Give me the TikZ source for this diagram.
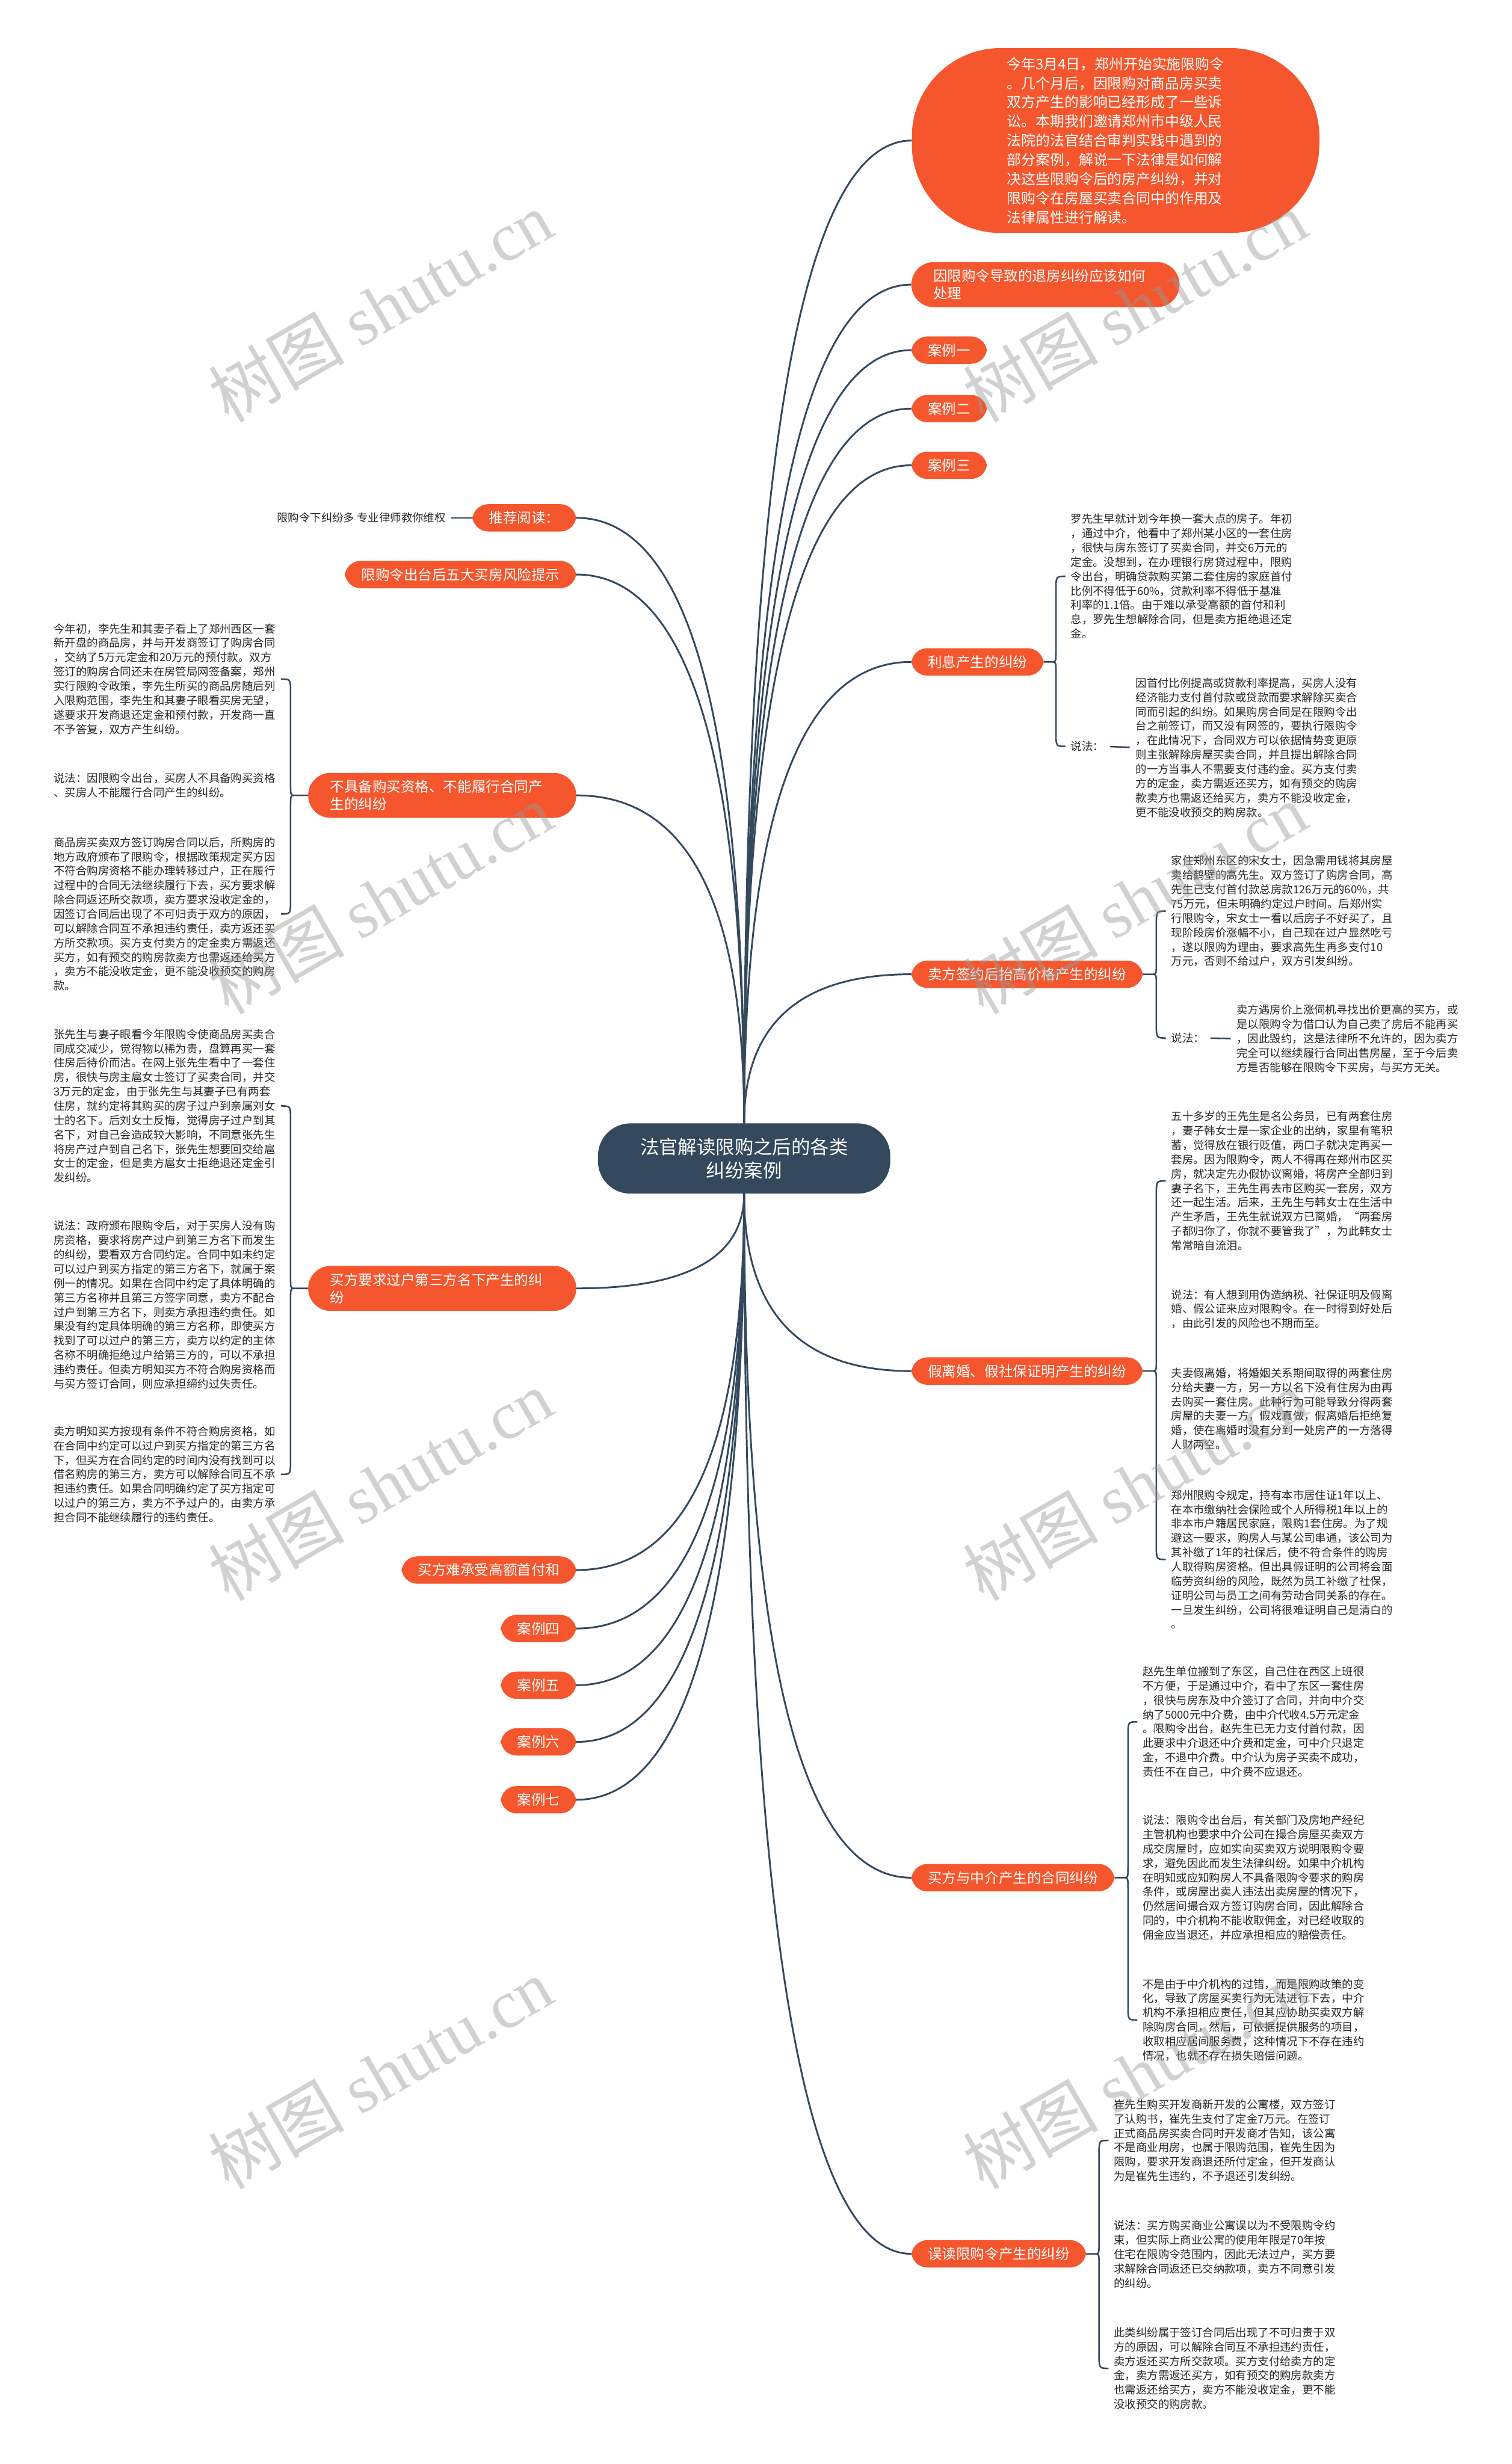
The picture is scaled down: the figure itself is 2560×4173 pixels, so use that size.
\documentclass[tikz,border=0pt]{standalone}
\usepackage{fontspec}
\setmainfont{Noto Sans CJK SC}
\newfontfamily\wmfont{Liberation Serif}
\usetikzlibrary{calc}

\definecolor{slate}{RGB}{52,73,94}
\definecolor{tomato}{RGB}{245,86,45}
\definecolor{ink}{RGB}{40,40,40}

\tikzset{
  hub/.style={fill=slate,text=white,rounded corners=55pt,minimum width=495pt,minimum height=119pt,
    align=center,font=\fontsize{32}{40}\selectfont},
  intro/.style={fill=tomato,text=white,rounded corners=150pt,minimum width=690pt,minimum height=313pt,
    align=left,font=\fontsize{24.3}{32.5}\selectfont},
  branch/.style={fill=tomato,text=white,rounded corners=27pt,inner xsep=28pt,inner ysep=12pt,
    align=left,font=\fontsize{24}{30}\selectfont},
  twoline/.style={branch,rounded corners=38pt,text width=380pt,inner xsep=37pt},
  leaf/.style={text=ink,inner sep=0pt,anchor=west,align=left,font=\fontsize{18.75}{24.3}\selectfont},
  link/.style={draw=slate,line width=3pt},
  wmark/.style={text=black!40,text opacity=0.45,rotate=30,font=\fontsize{115}{115}\selectfont}
}

% curve from the centre node to a branch
\newcommand{\branchlink}[2]{%
  \draw[link] let \p1=(#1), \p2=(#2) in
    (\p1) .. controls (\x1,{\y1+0.667*(\y2-\y1)}) and ({\x2+0.667*(\x1-\x2)},\y2) .. (\p2);}

% brace: parent anchor, first child, last child, end x, spine x, tip x
\newcommand{\cbrace}[6]{%
  \draw[link,line width=2.6pt] let \p1=(#1), \p2=(#2), \p3=(#3) in
    (#4pt,\y2) .. controls (#5pt,\y2) .. (#5pt,{\y2-24pt})
    -- (#5pt,{\y1+22pt}) .. controls (#5pt,\y1) .. (#6pt,\y1)
    .. controls (#5pt,\y1) .. (#5pt,{\y1-22pt})
    -- (#5pt,{\y3+24pt}) .. controls (#5pt,\y3) .. (#4pt,\y3)
    (#6pt,\y1) -- (#1);}

\begin{document}
\begin{tikzpicture}[x=1pt,y=-1pt]
\fill[white] (0,0) rectangle (2560,4173);
\useasboundingbox (0,0) rectangle (2560,4173);

% centre
\node[hub] (ctr) at (1260,1962) {法官解读限购之后的各类\\纠纷案例};

% right side
\node[intro] (intro) at (1889,238) {今年3月4日，郑州开始实施限购令\\。几个月后，因限购对商品房买卖\\双方产生的影响已经形成了一些诉\\讼。本期我们邀请郑州市中级人民\\法院的法官结合审判实践中遇到的\\部分案例，解说一下法律是如何解\\决这些限购令后的房产纠纷，并对\\限购令在房屋买卖合同中的作用及\\法律属性进行解读。};
\node[twoline,anchor=west] (q1) at (1543,482) {因限购令导致的退房纠纷应该如何\\处理};
\node[branch,anchor=west] (case1) at (1543,593) {案例一};
\node[branch,anchor=west] (case2) at (1543,692) {案例二};
\node[branch,anchor=west] (case3) at (1543,788) {案例三};
\node[branch,anchor=west] (lixi) at (1543,1121) {利息产生的纠纷};
\node[branch,anchor=west] (seller) at (1543,1650) {卖方签约后抬高价格产生的纠纷};
\node[branch,anchor=west] (fake) at (1543,2322) {假离婚、假社保证明产生的纠纷};
\node[branch,anchor=west] (agent) at (1543,3180) {买方与中介产生的合同纠纷};
\node[branch,anchor=west] (misread) at (1543,3817) {误读限购令产生的纠纷};

% left side
\node[branch,anchor=east] (rec) at (976,877) {推荐阅读：};
\node[branch,anchor=east] (risk) at (976,973) {限购令出台后五大买房风险提示};
\node[twoline,anchor=east] (unq) at (976,1347) {不具备购买资格、不能履行合同产\\生的纠纷};
\node[twoline,anchor=east] (transfer) at (976,2182) {买方要求过户第三方名下产生的纠\\纷};
\node[branch,anchor=east] (hard) at (976,2659) {买方难承受高额首付和};
\node[branch,anchor=east] (case4) at (976,2758) {案例四};
\node[branch,anchor=east] (case5) at (976,2854) {案例五};
\node[branch,anchor=east] (case6) at (976,2950) {案例六};
\node[branch,anchor=east] (case7) at (976,3048) {案例七};

\foreach \t in {intro.west,q1.west,case1.west,case2.west,case3.west,lixi.west,seller.west,rec.east,risk.east,unq.east}
  \branchlink{ctr.north}{\t};
\foreach \t in {fake.west,agent.west,misread.west,transfer.east,hard.east,case4.east,case5.east,case6.east,case7.east}
  \branchlink{ctr.south}{\t};

% leaves: 推荐阅读
\node[leaf] (recleaf) at (469,877) {限购令下纠纷多 专业律师教你维权};
\draw[link,line width=2.6pt,shorten <=9pt] (recleaf.east) -- (rec.west);

% leaves: 利息
\node[leaf] (lx1) at (1813,976) {罗先生早就计划今年换一套大点的房子。年初\\，通过中介，他看中了郑州某小区的一套住房\\，很快与房东签订了买卖合同，并交6万元的\\定金。没想到，在办理银行房贷过程中，限购\\令出台，明确贷款购买第二套住房的家庭首付\\比例不得低于60\%，贷款利率不得低于基准\\利率的1.1倍。由于难以承受高额的首付和利\\息，罗先生想解除合同，但是卖方拒绝退还定\\金。};
\node[leaf] (lxsay) at (1813,1264) {说法：};
\node[leaf] (lx2) at (1923,1266) {因首付比例提高或贷款利率提高，买房人没有\\经济能力支付首付款或贷款而要求解除买卖合\\同而引起的纠纷。如果购房合同是在限购令出\\台之前签订，而又没有网签的，要执行限购令\\，在此情况下，合同双方可以依据情势变更原\\则主张解除房屋买卖合同，并且提出解除合同\\的一方当事人不需要支付违约金。买方支付卖\\方的定金，卖方需返还买方，如有预交的购房\\款卖方也需返还给买方，卖方不能没收定金，\\更不能没收预交的购房款。};
\draw[link,line width=2.6pt,shorten <=10pt,shorten >=10pt] (lxsay.east) -- (lx2.west);
\cbrace{lixi.east}{lx1}{lxsay}{1804}{1788}{1782}

% leaves: 卖方签约
\node[leaf] (sl1) at (1983,1543) {家住郑州东区的宋女士，因急需用钱将其房屋\\卖给鹤壁的高先生。双方签订了购房合同，高\\先生已支付首付款总房款126万元的60\%，共\\75万元，但未明确约定过户时间。后郑州实\\行限购令，宋女士一看以后房子不好买了，且\\现阶段房价涨幅不小，自己现在过户显然吃亏\\，遂以限购为理由，要求高先生再多支付10\\万元，否则不给过户，双方引发纠纷。};
\node[leaf] (slsay) at (1983,1758) {说法：};
\node[leaf] (sl2) at (2094,1759) {卖方遇房价上涨伺机寻找出价更高的买方，或\\是以限购令为借口认为自己卖了房后不能再买\\，因此毁约，这是法律所不允许的，因为卖方\\完全可以继续履行合同出售房屋，至于今后卖\\方是否能够在限购令下买房，与买方无关。};
\draw[link,line width=2.6pt,shorten <=10pt,shorten >=10pt] (slsay.east) -- (sl2.west);
\cbrace{seller.east}{sl1}{slsay}{1974}{1958}{1952}

% leaves: 假离婚
\node[leaf] (fk1) at (1983,2000) {五十多岁的王先生是名公务员，已有两套住房\\，妻子韩女士是一家企业的出纳，家里有笔积\\蓄，觉得放在银行贬值，两口子就决定再买一\\套房。因为限购令，两人不得再在郑州市区买\\房，就决定先办假协议离婚，将房产全部归到\\妻子名下，王先生再去市区购买一套房，双方\\还一起生活。后来，王先生与韩女士在生活中\\产生矛盾，王先生就说双方已离婚，“两套房\\子都归你了，你就不要管我了”，为此韩女士\\常常暗自流泪。};
\node[leaf] (fk2) at (1983,2217) {说法：有人想到用伪造纳税、社保证明及假离\\婚、假公证来应对限购令。在一时得到好处后\\，由此引发的风险也不期而至。};
\node[leaf] (fk3) at (1983,2386) {夫妻假离婚，将婚姻关系期间取得的两套住房\\分给夫妻一方，另一方以名下没有住房为由再\\去购买一套住房。此种行为可能导致分得两套\\房屋的夫妻一方，假戏真做，假离婚后拒绝复\\婚，使在离婚时没有分到一处房产的一方落得\\人财两空。};
\node[leaf] (fk4) at (1983,2641) {郑州限购令规定，持有本市居住证1年以上、\\在本市缴纳社会保险或个人所得税1年以上的\\非本市户籍居民家庭，限购1套住房。为了规\\避这一要求，购房人与某公司串通，该公司为\\其补缴了1年的社保后，使不符合条件的购房\\人取得购房资格。但出具假证明的公司将会面\\临劳资纠纷的风险，既然为员工补缴了社保，\\证明公司与员工之间有劳动合同关系的存在。\\一旦发生纠纷，公司将很难证明自己是清白的\\。};
\cbrace{fake.east}{fk1}{fk4}{1974}{1958}{1952}

% leaves: 中介
\node[leaf] (ag1) at (1935,2916) {赵先生单位搬到了东区，自己住在西区上班很\\不方便，于是通过中介，看中了东区一套住房\\，很快与房东及中介签订了合同，并向中介交\\纳了5000元中介费，由中介代收4.5万元定金\\。限购令出台，赵先生已无力支付首付款，因\\此要求中介退还中介费和定金，可中介只退定\\金，不退中介费。中介认为房子买卖不成功，\\责任不在自己，中介费不应退还。};
\node[leaf] (ag2) at (1935,3180) {说法：限购令出台后，有关部门及房地产经纪\\主管机构也要求中介公司在撮合房屋买卖双方\\成交房屋时，应如实向买卖双方说明限购令要\\求，避免因此而发生法律纠纷。如果中介机构\\在明知或应知购房人不具备限购令要求的购房\\条件，或房屋出卖人违法出卖房屋的情况下，\\仍然居间撮合双方签订购房合同，因此解除合\\同的，中介机构不能收取佣金，对已经收取的\\佣金应当退还，并应承担相应的赔偿责任。};
\node[leaf] (ag3) at (1935,3421) {不是由于中介机构的过错，而是限购政策的变\\化，导致了房屋买卖行为无法进行下去，中介\\机构不承担相应责任，但其应协助买卖双方解\\除购房合同，然后，可依据提供服务的项目，\\收取相应居间服务费，这种情况下不存在违约\\情况，也就不存在损失赔偿问题。};
\cbrace{agent.east}{ag1}{ag3}{1926}{1910}{1904}

% leaves: 误读
\node[leaf] (mr1) at (1886,3625) {崔先生购买开发商新开发的公寓楼，双方签订\\了认购书，崔先生支付了定金7万元。在签订\\正式商品房买卖合同时开发商才告知，该公寓\\不是商业用房，也属于限购范围，崔先生因为\\限购，要求开发商退还所付定金，但开发商认\\为是崔先生违约，不予退还引发纠纷。};
\node[leaf] (mr2) at (1886,3818) {说法：买方购买商业公寓误以为不受限购令约\\束，但实际上商业公寓的使用年限是70年按\\住宅在限购令范围内，因此无法过户，买方要\\求解除合同返还已交纳款项，卖方不同意引发\\的纠纷。};
\node[leaf] (mr3) at (1886,4011) {此类纠纷属于签订合同后出现了不可归责于双\\方的原因，可以解除合同互不承担违约责任，\\卖方返还买方所交款项。买方支付给卖方的定\\金，卖方需返还买方，如有预交的购房款卖方\\也需返还给买方，卖方不能没收定金，更不能\\没收预交的购房款。};
\cbrace{misread.east}{mr1}{mr3}{1877}{1861}{1855}

% leaves: 不具备购买资格
\node[leaf] (un1) at (91,1150) {今年初，李先生和其妻子看上了郑州西区一套\\新开盘的商品房，并与开发商签订了购房合同\\，交纳了5万元定金和20万元的预付款。双方\\签订的购房合同还未在房管局网签备案，郑州\\实行限购令政策，李先生所买的商品房随后列\\入限购范围，李先生和其妻子眼看买房无望，\\遂要求开发商退还定金和预付款，开发商一直\\不予答复，双方产生纠纷。};
\node[leaf] (un2) at (91,1330) {说法：因限购令出台，买房人不具备购买资格\\、买房人不能履行合同产生的纠纷。};
\node[leaf] (un3) at (91,1548) {商品房买卖双方签订购房合同以后，所购房的\\地方政府颁布了限购令，根据政策规定买方因\\不符合购房资格不能办理转移过户，正在履行\\过程中的合同无法继续履行下去，买方要求解\\除合同返还所交款项，卖方要求没收定金的，\\因签订合同后出现了不可归责于双方的原因，\\可以解除合同互不承担违约责任，卖方返还买\\方所交款项。买方支付卖方的定金卖方需返还\\买方，如有预交的购房款卖方也需返还给买方\\，卖方不能没收定金，更不能没收预交的购房\\款。};
\cbrace{unq.west}{un1}{un3}{476}{492}{498}

% leaves: 过户第三方
\node[leaf] (tr1) at (91,1873) {张先生与妻子眼看今年限购令使商品房买卖合\\同成交减少，觉得物以稀为贵，盘算再买一套\\住房后待价而沽。在网上张先生看中了一套住\\房，很快与房主扈女士签订了买卖合同，并交\\3万元的定金，由于张先生与其妻子已有两套\\住房，就约定将其购买的房子过户到亲属刘女\\士的名下。后刘女士反悔，觉得房子过户到其\\名下，对自己会造成较大影响，不同意张先生\\将房产过户到自己名下，张先生想要回交给扈\\女士的定金，但是卖方扈女士拒绝退还定金引\\发纠纷。};
\node[leaf] (tr2) at (91,2210) {说法：政府颁布限购令后，对于买房人没有购\\房资格，要求将房产过户到第三方名下而发生\\的纠纷，要看双方合同约定。合同中如未约定\\可以过户到买方指定的第三方名下，就属于案\\例一的情况。如果在合同中约定了具体明确的\\第三方名称并且第三方签字同意，卖方不配合\\过户到第三方名下，则卖方承担违约责任。如\\果没有约定具体明确的第三方名称，即使买方\\找到了可以过户的第三方，卖方以约定的主体\\名称不明确拒绝过户给第三方的，可以不承担\\违约责任。但卖方明知买方不符合购房资格而\\与买方签订合同，则应承担缔约过失责任。};
\node[leaf] (tr3) at (91,2497) {卖方明知买方按现有条件不符合购房资格，如\\在合同中约定可以过户到买方指定的第三方名\\下，但买方在合同约定的时间内没有找到可以\\借名购房的第三方，卖方可以解除合同互不承\\担违约责任。如果合同明确约定了买方指定可\\以过户的第三方，卖方不予过户的，由卖方承\\担合同不能继续履行的违约责任。};
\cbrace{transfer.west}{tr1}{tr3}{476}{492}{498}

% watermarks
\foreach \wx in {644,1921}
  \foreach \wy in {519,1522,2515,3512}
    \node[wmark] at (\wx,\wy) {树图 {\wmfont shutu.cn}};
\end{tikzpicture}
\end{document}
